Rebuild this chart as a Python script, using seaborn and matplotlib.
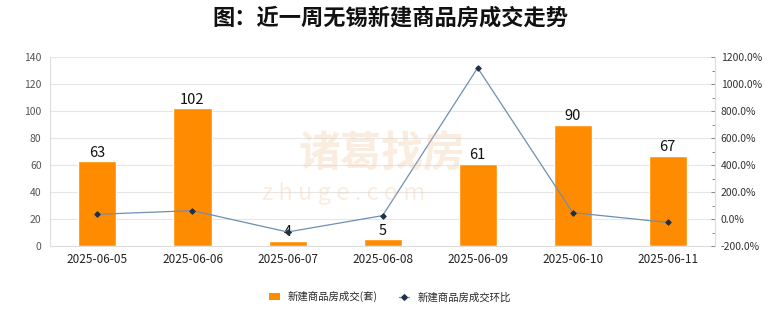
import numpy as np
import pandas as pd
import matplotlib
matplotlib.use("Agg")
import matplotlib.pyplot as plt
from matplotlib.ticker import MultipleLocator, FuncFormatter
from matplotlib.lines import Line2D
from matplotlib.patches import Patch
import seaborn as sns

dates = ["2025-06-05", "2025-06-06", "2025-06-07", "2025-06-08",
         "2025-06-09", "2025-06-10", "2025-06-11"]
deals = [63, 102, 4, 5, 61, 90, 67]
pct_change = [35.0, 61.9, -96.1, 25.0, 1120.0, 47.5, -25.6]

bar_label = "新建商品房成交(套)"
line_label = "新建商品房成交环比"
title = "图：近一周无锡新建商品房成交走势"

sns.set_theme(style="white")
plt.rcParams["font.family"] = ["Noto Sans CJK SC", "DejaVu Sans"]
plt.rcParams["axes.unicode_minus"] = False

fig = plt.figure(figsize=(7.8, 3.28), dpi=100)
ax = fig.add_axes([0.064, 0.25, 0.853, 0.576])

df = pd.DataFrame({"date": dates, "deals": deals, "pct": pct_change})
sns.barplot(data=df, x="date", y="deals", color="#FF8C00", saturation=1,
            width=0.4, ax=ax, zorder=2)
ax.set_ylim(0, 140)
ax.yaxis.set_major_locator(MultipleLocator(20))
ax.grid(axis="y", color="#e6e6e6", linewidth=0.8, zorder=0)
ax.set_axisbelow(True)
ax.set_xlabel("")
ax.set_ylabel("")
ax.tick_params(axis="x", labelsize=8.5, colors="#222222", length=0, pad=5)
ax.tick_params(axis="y", labelsize=7.5, colors="#555555", length=0, pad=6)
ax.spines["top"].set_visible(False)
for s in ["left", "right", "bottom"]:
    ax.spines[s].set_color("#dddddd")
    ax.spines[s].set_linewidth(0.8)

for c in ax.containers:
    ax.bar_label(c, labels=[str(v) for v in deals], fontsize=10.5,
                 color="#111111", padding=1)

ax2 = ax.twinx()
sns.lineplot(x=np.arange(len(dates)), y=pct_change, ax=ax2, color="#6d8fb3",
             linewidth=0.9, marker="D", markersize=2.8,
             markerfacecolor="#1f2f4a", markeredgecolor="#1f2f4a", zorder=3)
ax2.set_ylim(-200, 1200)
ax2.yaxis.set_major_locator(MultipleLocator(200))
ax2.yaxis.set_minor_locator(MultipleLocator(100))
ax2.yaxis.set_major_formatter(FuncFormatter(lambda v, p: f"{v:.1f}%"))
ax2.tick_params(axis="y", which="major", direction="in", length=3, width=0.7,
                color="#888888", labelsize=7.5, labelcolor="#333333", pad=4)
ax2.tick_params(axis="y", which="minor", direction="in", length=2, width=0.7,
                color="#888888")
ax2.set_ylabel("")
ax2.grid(False)
for s in ["top", "bottom", "left"]:
    ax2.spines[s].set_visible(False)
ax2.spines["right"].set_color("#dddddd")
ax2.spines["right"].set_linewidth(0.8)
ax.set_xlim(-0.5, len(dates) - 0.5)

# watermark
fig.text(0.49, 0.53, "诸葛找房", fontsize=30, color="#f3c29a", alpha=0.3,
         ha="center", va="center", fontweight="bold")
fig.text(0.44, 0.41, "z h u g e . c o m", fontsize=17, color="#f3c29a",
         alpha=0.3, ha="center", va="center")

fig.text(0.5, 0.945, title, fontsize=16, ha="center", va="center",
         color="#111111", fontweight="bold")

handles = [Patch(facecolor="#FF8C00", edgecolor="none"),
           Line2D([0], [0], color="#6d8fb3", linewidth=0.9, marker="D",
                  markersize=2.8, markerfacecolor="#1f2f4a",
                  markeredgecolor="#1f2f4a")]
fig.legend(handles, [bar_label, line_label], loc="center",
           bbox_to_anchor=(0.5, 0.095), ncol=2, frameon=False, fontsize=7.5,
           handlelength=1.0, handleheight=0.6, columnspacing=2.0,
           handletextpad=0.8)

fig.savefig("out.png", dpi=100)
